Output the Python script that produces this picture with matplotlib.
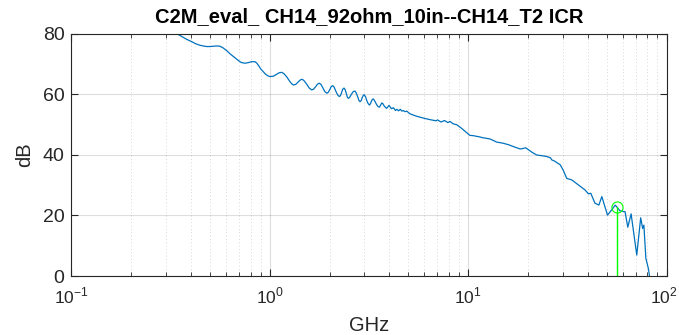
import matplotlib
matplotlib.use("Agg")
import matplotlib.pyplot as plt
import matplotlib.transforms as mtransforms
from matplotlib.ticker import LogLocator, NullFormatter, FixedLocator
import numpy as np

plt.rcParams['font.family'] = ['Liberation Sans', 'DejaVu Sans']
plt.rcParams['mathtext.fontset'] = 'custom'
plt.rcParams['mathtext.rm'] = 'Liberation Sans'

# ICR curve (GHz, dB)
freq_ghz = [0.30, 0.339, 0.36, 0.38, 0.404, 0.42, 0.44, 0.46, 0.48, 0.50,
            0.52, 0.54, 0.56, 0.58, 0.61, 0.63, 0.655, 0.68, 0.70, 0.72,
            0.75, 0.78, 0.81, 0.842, 0.86, 0.88, 0.90, 0.927, 0.95, 0.98,
            1.0, 1.04, 1.08, 1.11, 1.148, 1.18, 1.22, 1.26, 1.29, 1.314,
            1.35, 1.38, 1.42, 1.449, 1.48, 1.53, 1.58, 1.626, 1.66, 1.70,
            1.74, 1.777, 1.81, 1.85, 1.89, 1.936, 1.97, 2.01, 2.04, 2.075,
            2.11, 2.15, 2.20, 2.24, 2.27, 2.30, 2.33, 2.366, 2.40, 2.43,
            2.46, 2.49, 2.53, 2.58, 2.64, 2.69, 2.73, 2.77, 2.81, 2.85,
            2.89, 2.92, 2.96, 2.99, 3.04, 3.08, 3.13, 3.18, 3.22, 3.25,
            3.29, 3.33, 3.39, 3.45, 3.51, 3.57, 3.62, 3.67, 3.72, 3.78,
            3.88, 3.99, 4.10, 4.20, 4.30, 4.37, 4.46, 4.55, 4.63, 4.71,
            4.80, 4.90, 5.09, 5.5, 5.94, 6.4, 6.9, 7.0, 7.3, 7.6,
            7.9, 8.1, 8.4, 8.76, 9.27, 9.82, 10.2, 10.6, 11.4, 11.9,
            12.9, 13.9, 15.0, 16.0, 16.9, 18.3, 19.0, 19.5, 20.2, 21.0,
            22.2, 23.5, 24.9, 26.0, 26.4, 27.1, 29.1, 30.2, 31.4, 33.3,
            36.0, 38.8, 40.4, 41.5, 43.6, 45.6, 47.2, 50.4, 52.9, 55.1,
            58.3, 61.8, 63.8, 66.3, 70.8, 74.1, 75.8, 76.9, 78.7, 81.0,
            82.5]
icr_db = [81.5, 80.0, 79.0, 78.1, 77.3, 76.7, 76.2, 75.9, 75.7, 75.7,
          75.8, 75.9, 75.8, 75.3, 74.2, 73.3, 72.4, 71.5, 70.9, 70.4,
          70.2, 70.4, 70.7, 70.7, 70.2, 69.3, 68.3, 67.4, 66.6, 66.0,
          65.8, 65.9, 66.5, 67.0, 67.2, 66.7, 65.6, 64.2, 63.4, 63.0,
          63.2, 63.8, 64.6, 64.9, 64.6, 63.4, 62.0, 61.4, 61.6, 62.4,
          63.3, 63.6, 63.2, 62.1, 60.9, 60.3, 60.6, 61.6, 62.5, 62.8,
          62.3, 61.0, 59.7, 59.2, 59.5, 60.5, 61.6, 62.0, 61.4, 60.2,
          59.0, 58.6, 59.0, 60.0, 60.9, 61.0, 60.3, 59.2, 58.0, 57.5,
          57.9, 58.8, 59.6, 59.8, 59.1, 57.9, 56.9, 56.4, 56.9, 57.6,
          58.3, 58.4, 57.6, 56.6, 55.9, 55.7, 56.4, 57.1, 56.8, 56.0,
          55.3, 56.3, 55.2, 55.5, 54.6, 55.0, 54.5, 55.0, 54.4, 54.6,
          54.2, 54.4, 53.5, 52.7, 52.1, 51.6, 51.2, 51.5, 50.8, 51.3,
          50.6, 51.0, 50.2, 49.9, 48.7, 47.3, 46.4, 46.3, 45.9, 45.6,
          45.2, 44.2, 43.8, 43.3, 42.7, 41.9, 42.1, 42.3, 41.6, 40.8,
          39.9, 39.7, 39.4, 39.0, 38.3, 38.0, 36.7, 34.8, 32.2, 31.7,
          30.0, 28.4, 27.1, 27.3, 24.0, 23.4, 26.2, 20.1, 21.8, 23.4,
          21.5, 21.2, 16.1, 20.5, 6.9, 19.2, 15.7, 16.8, 5.8, 2.5,
          -1.0]

# marker point
mark_f = 56.1
mark_db = 22.9

fig = plt.figure(figsize=(6.79, 3.35), dpi=100)
ax = fig.add_axes([0.1053, 0.1761, 0.8763, 0.7239])

blue = (0.0, 0.447, 0.741)
ax.semilogx(freq_ghz, icr_db, color=blue, linewidth=0.9)
ax.plot([mark_f, mark_f], [0, mark_db], color=(0, 1, 0), linewidth=1.0)
ax.plot([mark_f], [mark_db], 'o', markerfacecolor='none', markeredgecolor=(0, 1, 0),
        markersize=8, markeredgewidth=0.8)

ax.set_xlim(0.1, 100)
ax.set_ylim(0, 80)
ax.set_yticks([0, 20, 40, 60, 80])
ax.xaxis.set_major_locator(FixedLocator([0.1, 1, 10, 100]))
ax.set_xticklabels([r'$10^{-1}$', r'$10^{0}$', r'$10^{1}$', r'$10^{2}$'])
ax.xaxis.set_minor_locator(LogLocator(base=10, subs=np.arange(2, 10), numticks=20))
ax.xaxis.set_minor_formatter(NullFormatter())

axc = (0.15, 0.15, 0.15)
ax.grid(True, which='major', color=axc, alpha=0.15, linewidth=0.8, linestyle='-')
ax.grid(True, which='minor', axis='x', color=axc, alpha=0.25, linewidth=0.6, linestyle=(0, (1, 3)))

ax.tick_params(which='both', direction='in', top=True, right=True, colors=axc,
               labelcolor=axc)
ax.tick_params(which='major', length=5, width=0.8)
ax.tick_params(which='minor', length=3, width=0.6)
ax.tick_params(axis='x', pad=7, labelsize=12.5)
ax.tick_params(axis='y', pad=5, labelsize=14)
for s in ax.spines.values():
    s.set_color(axc)
    s.set_linewidth(0.8)

# keep the last x label inside the figure
last = ax.get_xticklabels()[-1]
last.set_transform(last.get_transform() + mtransforms.ScaledTranslation(-3 / 100, 0, fig.dpi_scale_trans))

ax.set_xlabel('GHz', fontsize=14.5, color=axc, labelpad=7)
ax.set_ylabel('dB', fontsize=14.5, color=axc, labelpad=6)
ax.set_title('C2M_eval_ CH14_92ohm_10in--CH14_T2 ICR', fontsize=14.5, fontweight='bold',
             color='black', pad=8)

fig.savefig('out.png', dpi=100)
